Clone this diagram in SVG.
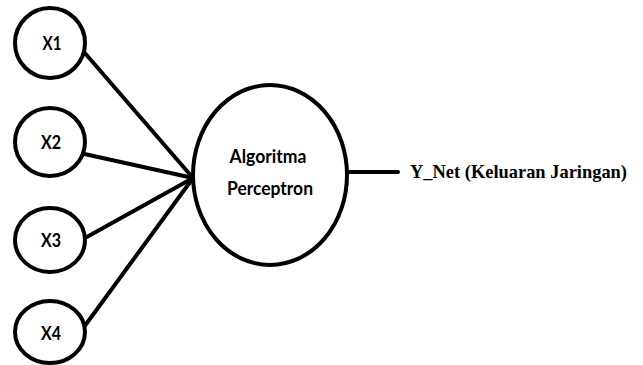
<svg xmlns="http://www.w3.org/2000/svg" width="643" height="365" viewBox="0 0 643 365">
<style>
.n{fill:#fff;stroke:#000;stroke-width:4}
.c{stroke:#000;stroke-width:4;fill:none;stroke-linecap:round}
.t{font-family:Lato,"Open Sans",sans-serif;font-weight:bold;font-size:19px;fill:#000;text-anchor:middle}
.o{font-family:"Liberation Serif",serif;font-weight:bold;font-size:19px;fill:#000}
</style>
<rect width="643" height="365" fill="#fff"/>
<g id="connectors">
<line class="c" x1="84" y1="52" x2="193" y2="178"/>
<line class="c" x1="80" y1="153" x2="193" y2="178"/>
<line class="c" x1="85" y1="238" x2="193" y2="178"/>
<line class="c" x1="84" y1="327" x2="193" y2="178"/>
<line class="c" x1="346" y1="172" x2="398" y2="172"/>
</g>
<g id="x1"><ellipse class="n" cx="50" cy="43" rx="35" ry="35"/><text class="t" x="52" y="50" textLength="19" lengthAdjust="spacingAndGlyphs">X1</text></g>
<g id="x2"><ellipse class="n" cx="50" cy="142" rx="35" ry="34"/><text class="t" x="51" y="149" textLength="20" lengthAdjust="spacingAndGlyphs">X2</text></g>
<g id="x3"><ellipse class="n" cx="50" cy="240" rx="35" ry="32"/><text class="t" x="51" y="247" textLength="20" lengthAdjust="spacingAndGlyphs">X3</text></g>
<g id="x4"><ellipse class="n" cx="50" cy="332" rx="35" ry="31"/><text class="t" x="51" y="340" textLength="20" lengthAdjust="spacingAndGlyphs">X4</text></g>
<g id="perceptron"><ellipse class="n" cx="270" cy="175" rx="77" ry="90"/><text class="t" x="268" y="163" textLength="77" lengthAdjust="spacingAndGlyphs">Algoritma</text><text class="t" x="270" y="195" textLength="86" lengthAdjust="spacingAndGlyphs">Perceptron</text></g>
<g id="output"><text class="o" x="410" y="178" textLength="217" lengthAdjust="spacingAndGlyphs">Y_Net (Keluaran Jaringan)</text></g>
</svg>
